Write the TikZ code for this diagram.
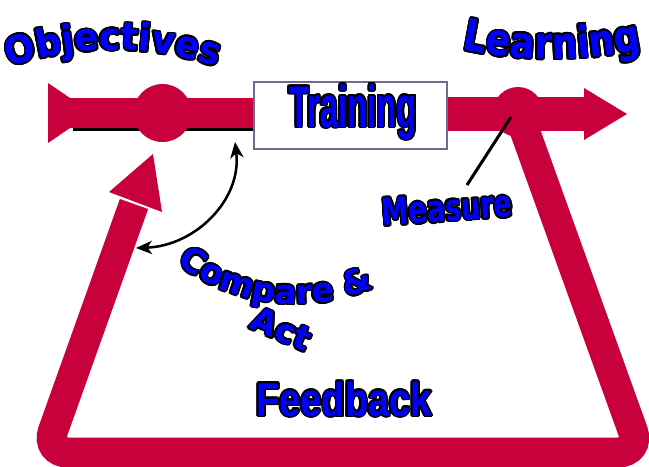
\documentclass[tikz,border=0pt]{standalone}
\usepackage{fontspec}
\usepackage{graphicx}
\usepackage{contour}
\usetikzlibrary{calc,arrows.meta}

\newfontfamily\heavy{DejaVu Sans}
\newfontfamily\arialb{Liberation Sans}
\definecolor{loopred}{HTML}{C8003C}
\definecolor{boxline}{HTML}{6C6C8E}
\contourlength{1.3pt}

% blue lettering with a black rim
\newcommand\rim[1]{\textcolor{blue}{\contour{black}{#1}}}
\newcommand\objfmt[1]{{\heavy\bfseries\fontsize{28.5pt}{32pt}\selectfont\rim{\scalebox{0.94}[1]{#1}}}}
\newcommand\lrnfmt[1]{{\heavy\bfseries\fontsize{33pt}{36pt}\selectfont\rim{\scalebox{0.83}[1]{#1}}}}
\newcommand\cmpfmt[1]{{\heavy\bfseries\fontsize{25pt}{28pt}\selectfont\rim{#1}}}

% letters set one by one along a circular arc
\newdimen\letterw
\newdimen\wordw
\newdimen\wordpos
\newsavebox\probe
% width of one letter, measured outside the picture's own typesetting
\newcommand\measureletter[2]{%
  \pgfinterruptpicture\sbox\probe{#1{#2}}\global\letterw=\wd\probe\endpgfinterruptpicture}
% \arcword{name prefix}{centre}{radius}{mid angle}{+1 crest / -1 trough}{format}{letters}
\newcommand\arcword[7]{%
  \global\wordw=0pt
  \foreach \ch in {#7}{\measureletter{#6}{\ch}\global\advance\wordw by \letterw}%
  \global\wordpos=0pt
  \foreach \ch [count=\k] in {#7}{%
    \measureletter{#6}{\ch}%
    \pgfmathsetmacro\ang{#4+(#5)*(0.5*\the\wordw-\the\wordpos-0.5*\the\letterw)/(0.75*#3)*57.29578}%
    \pgfmathsetmacro\rot{\ang-(#5)*90}%
    \node[anchor=base, inner sep=0pt, rotate=\rot] (#1\k) at ($(#2)+(\ang:#3)$) {#6{\ch}};%
    \global\advance\wordpos by \letterw
  }%
}

\tikzset{
  backpath/.style={draw=loopred, line width=22.5pt, rounded corners=17pt},
  redfill/.style={fill=loopred, draw=none},
  hub/.style={circle, fill=loopred, inner sep=0pt},
  label/.style={anchor=base, inner sep=0pt},
  pointer/.style={draw=black, line width=2.3pt},
  twoway/.style={draw=black, line width=1.9pt,
    {Stealth[length=12pt,width=10pt,inset=3.5pt]}-{Stealth[length=12pt,width=10pt,inset=3.5pt]}}
}

\begin{document}
\begin{tikzpicture}[x=0.75pt, y=0.75pt]
\useasboundingbox (0,0) rectangle (649,-467);
\fill[white] (0,0) rectangle (649,-467);

% feedback loop
\coordinate (fbtop) at (134,-204);
\coordinate (fbleft) at (45.3,-452.5);
\coordinate (fbright) at (640.6,-452.5);
\coordinate (fbstart) at (518,-112);
\draw[backpath] (fbtop) -- (fbleft) -- (fbright) -- (fbstart);
\fill[redfill] (109,-192) -- (153,-154) -- (162,-212) -- cycle;

% main flow: objectives -> training -> learning
\fill[black] (73,-126) rectangle (254,-130.5);
\fill[redfill] (70,-98) rectangle (256,-127.5);
\fill[redfill] (48,-83) -- (92,-113) -- (48,-143) -- cycle;
\node[hub, minimum size=43.5pt] (cmp) at (162.5,-113) {};
\fill[redfill] (446,-97) rectangle (586,-131);
\fill[redfill] (584,-88) -- (627,-114) -- (584,-140) -- cycle;
\node[hub, minimum size=37.5pt] (msr) at (518,-112) {};

\node[draw=boxline, line width=1.1pt, fill=white, minimum width=144.75pt,
      minimum height=50.25pt, inner sep=0pt] (trainbox) at (350.5,-115.5) {};
\node[label] (training) at (353,-127)
  {\arialb\bfseries\fontsize{44pt}{48pt}\selectfont\rim{\scalebox{0.56}[1]{Training}}};

% measuring and comparing
\coordinate (mfoot) at (467,-185);
\coordinate (mhead) at (511,-117);
\draw[pointer] (mhead) -- (mfoot);
\coordinate (cmpend) at (136,-248);
\coordinate (trainend) at (235,-142);
\draw[twoway] (cmpend) .. controls (195,-246) and (242,-200) .. (trainend);

% lettering
\coordinate (objc) at (113,-380);
\arcword{obj}{objc}{330}{90}{1}{\objfmt}{O,b,j,e,c,t,i,v,e,s}
\coordinate (lrnc) at (552,369);
\arcword{lrn}{lrnc}{428}{270}{-1}{\lrnfmt}{L,e,a,r,n,i,n,g}
\coordinate (cmpc) at (296,-109);
\arcword{cmpw}{cmpc}{195}{263}{-1}{\cmpfmt}{C,o,m,p,a,r,e,\ ,\&}

\node[label, rotate=-23] (act) at (277,-340)
  {\heavy\bfseries\fontsize{25pt}{28pt}\selectfont\rim{Act}};
\node[label, rotate=4] (measure) at (448,-221)
  {\heavy\bfseries\fontsize{27.8pt}{30pt}\selectfont\rim{\scalebox{0.73}[1]{Measure}}};
\node[label] (feedback) at (344,-416)
  {\arialb\bfseries\fontsize{35.6pt}{40pt}\selectfont\rim{\scalebox{0.8}[1]{Feedback}}};
\end{tikzpicture}
\end{document}
